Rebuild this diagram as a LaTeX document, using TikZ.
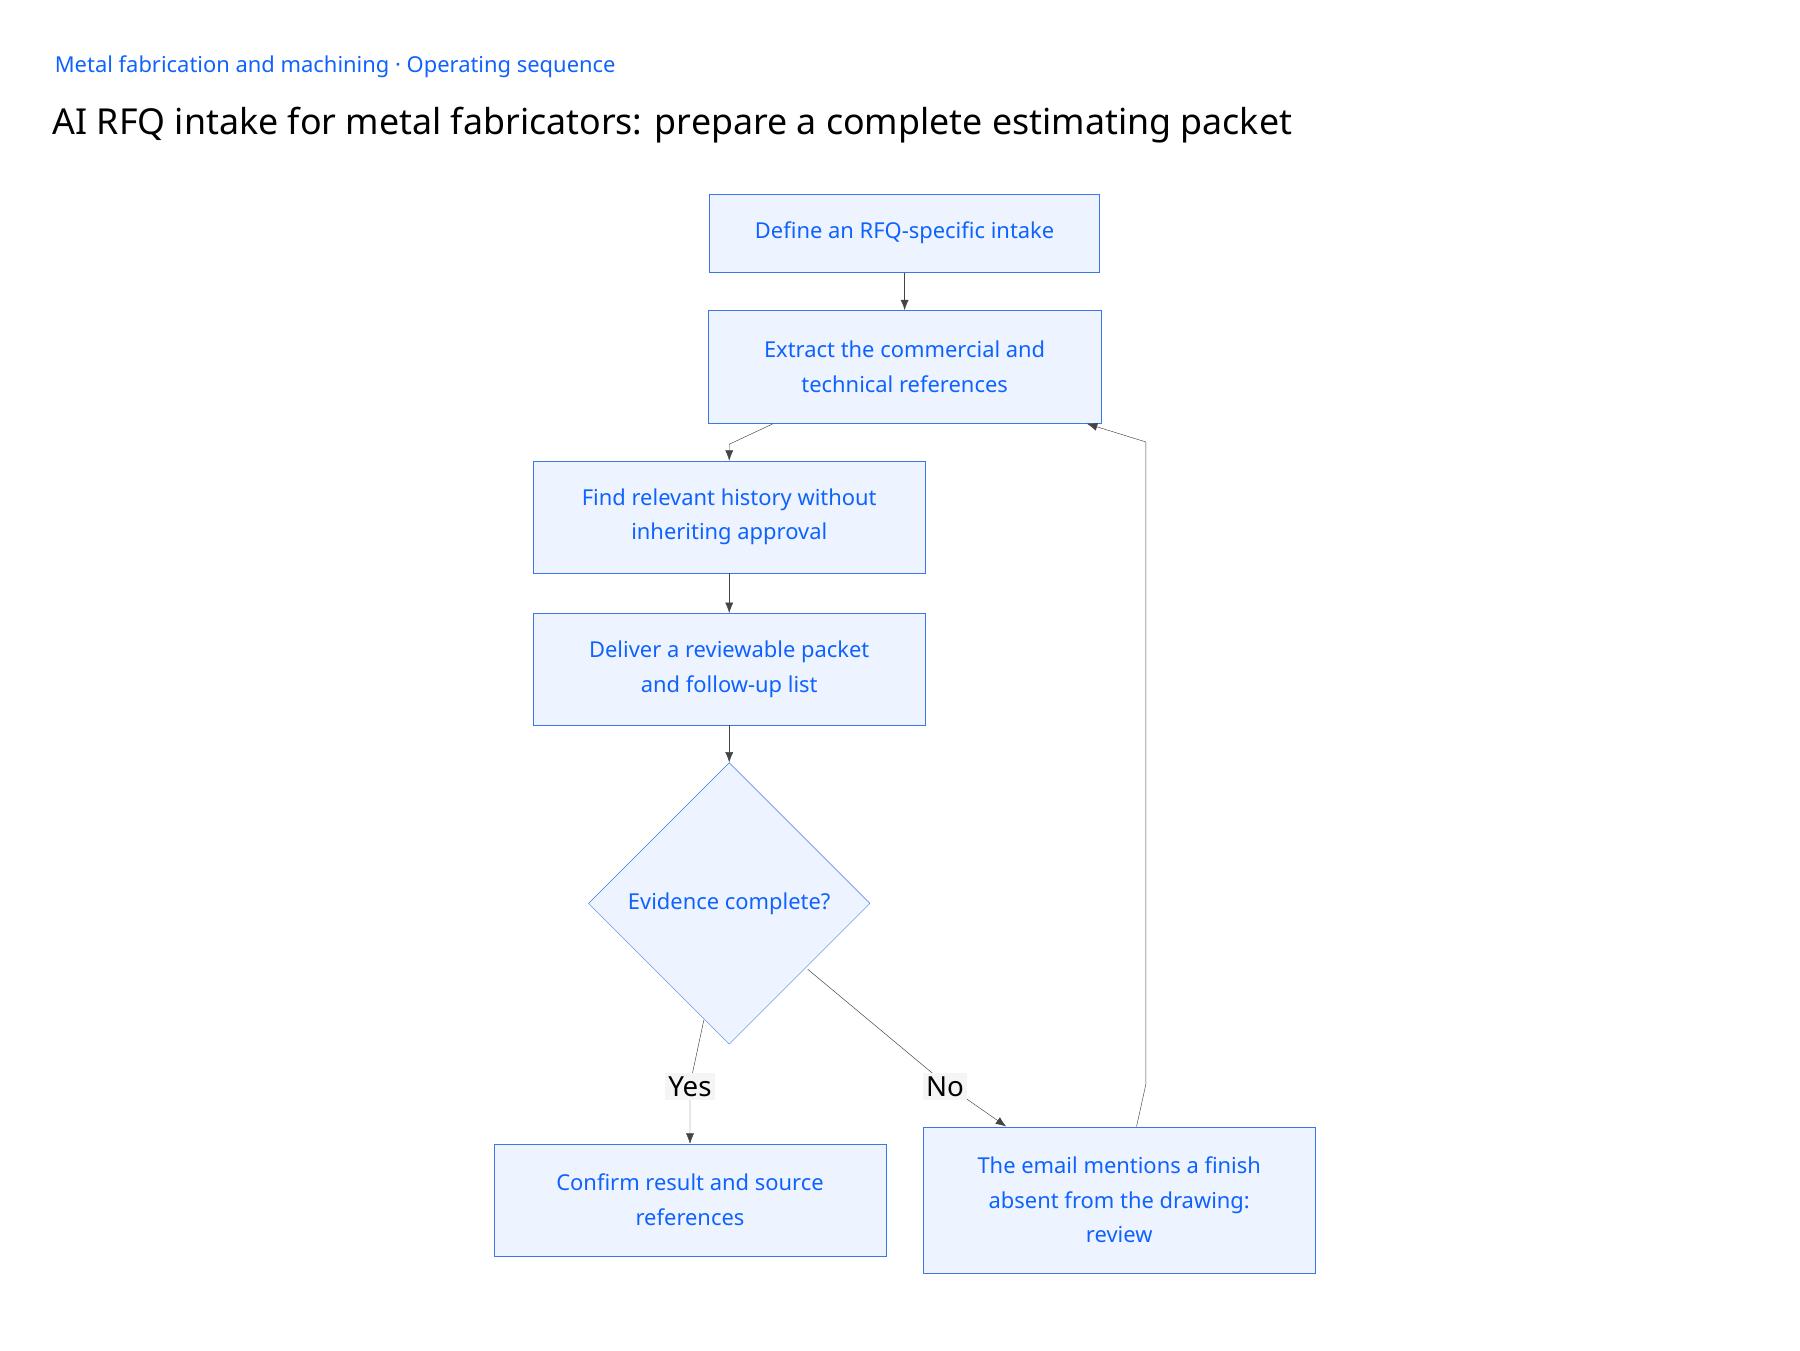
\documentclass[tikz,border=0pt]{standalone}
\usepackage{fontspec}
\setmainfont{Noto Sans}
\usetikzlibrary{arrows.meta,shapes.geometric}
\definecolor{ink}{HTML}{0F62FE}
\definecolor{boxfill}{HTML}{EDF4FF}
\definecolor{boxline}{HTML}{3B78E7}
\definecolor{wire}{HTML}{444444}
\tikzset{
    stepbox/.style = {draw=boxline, fill=boxfill, text=ink, minimum width=340pt, align=center,
        font=\fontsize{19}{30}\selectfont},
    flow/.style = {draw=wire, -{Latex[length=9pt,width=7pt]}},
    tag/.style = {fill=black!4, font=\fontsize{24}{28}\selectfont, inner sep=3pt}
}
\begin{document}
\begin{tikzpicture}[x=1pt, y=-1pt]
    \useasboundingbox (0,0) rectangle (1560,1170);
    \node[anchor=west, text=ink, font=\fontsize{19}{24}\selectfont] (kicker) at (44,58)
        {Metal fabrication and machining · Operating sequence};
    \node[anchor=west, font=\fontsize{31}{36}\selectfont] (title) at (42,108)
        {AI RFQ intake for metal fabricators: prepare a complete estimating packet};

    \node[stepbox, minimum width=338pt, minimum height=68pt] (define) at (784,202) {Define an RFQ-specific intake};
    \node[stepbox, minimum height=98pt] (extract) at (784,318) {Extract the commercial and\\technical references};
    \node[stepbox, minimum height=97pt] (history) at (632,448) {Find relevant history without\\inheriting approval};
    \node[stepbox, minimum height=97pt] (deliver) at (632,580) {Deliver a reviewable packet\\and follow-up list};
    \node[draw=boxline, fill=boxfill, text=ink, diamond, minimum size=244pt, inner sep=0pt,
        font=\fontsize{19}{30}\selectfont] (check) at (632,783) {Evidence complete?};
    \node[stepbox, minimum height=97pt] (confirm) at (598,1040) {Confirm result and source\\references};
    \node[stepbox, minimum height=127pt] (finish) at (970,1040) {The email mentions a finish\\absent from the drawing:\\review};

    \draw[flow] (extract.south -| 670,0) -- (632,385) -- (history.north);
    \draw[flow] (define) -- (extract);
    \draw[flow] (history) -- (deliver);
    \draw[flow] (deliver) -- (check.north);
    \draw[flow] (610,884) -- (598,940) -- (confirm.north);
    \draw[flow] (700,840) -- (820,940) -- (finish.north -| 872,0);
    \draw[flow] (finish.north -| 985,0) -- (993,940) -- (993,383) -- (extract.south -| 942,0);

    \node[tag] (yes) at (598,942) {Yes};
    \node[tag] (no) at (819,942) {No};
\end{tikzpicture}
\end{document}
